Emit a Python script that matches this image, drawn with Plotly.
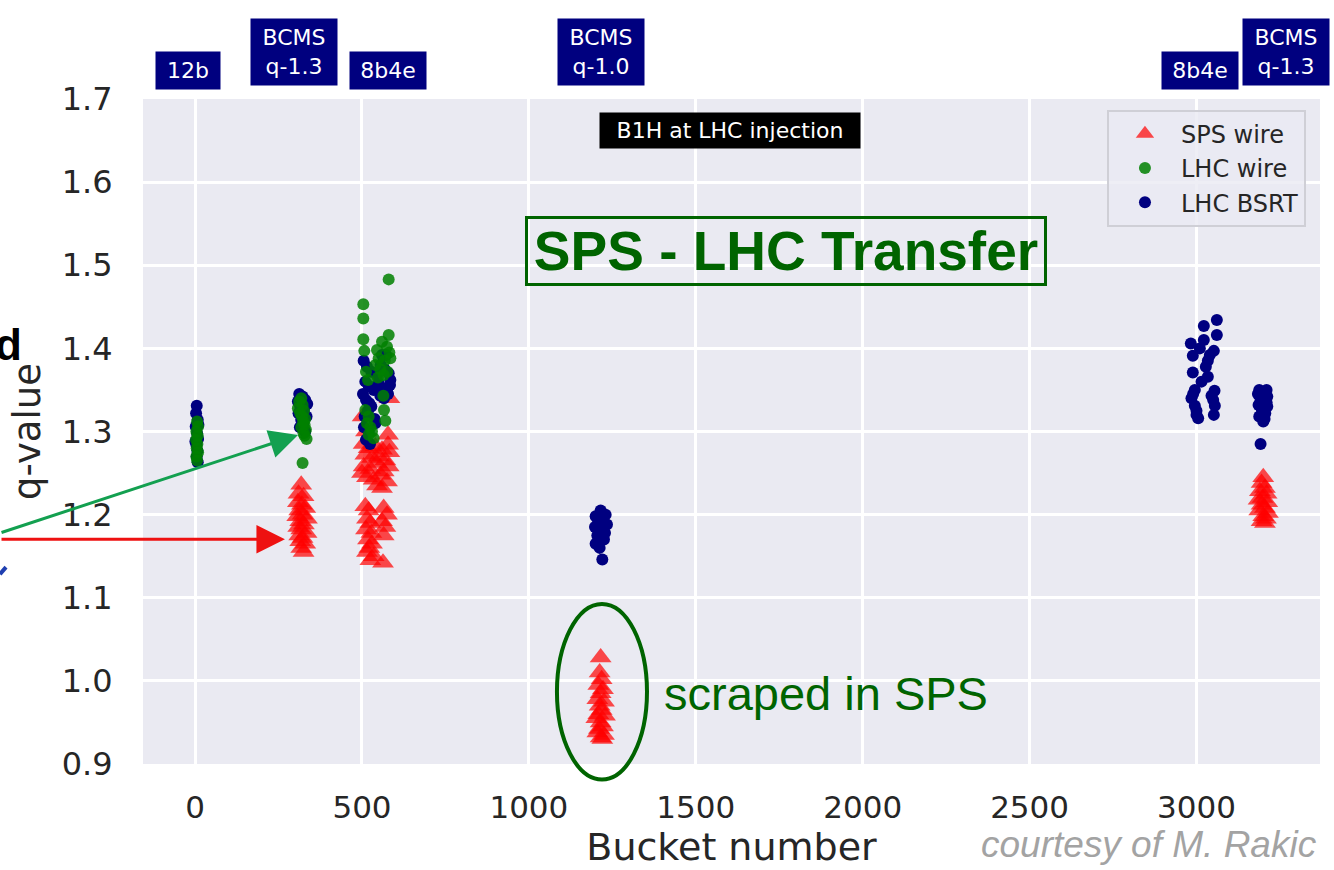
import plotly.graph_objects as go

# ---- SPS wire-scanner q-values (red triangles) ----
sps_bucket = [
    318, 310, 325, 308, 320, 330, 312, 322, 306, 335, 315, 326, 309, 318, 334, 312, 322, 315, 330, 318, 325,
    505, 520, 540, 560, 578, 510, 530, 550, 570, 582, 505, 525, 545, 565, 580, 515, 535, 555, 575, 545, 560,
    502, 582, 578, 512, 500,
    510, 520, 565, 575, 515, 525, 560, 570, 512, 528, 565, 518, 530, 522, 515, 535, 525, 563,
    1215, 1212, 1218, 1208, 1222, 1215, 1205, 1225, 1212, 1218, 1208, 1228, 1202, 1215, 1222, 1210, 1205,
    1225, 1215, 1220,
    3200, 3195, 3205, 3190, 3210, 3198, 3186, 3212, 3195, 3205, 3188, 3214, 3200, 3208, 3195, 3205,
]
sps_q = [
    1.236, 1.225, 1.222, 1.215, 1.212, 1.208, 1.205, 1.200, 1.198, 1.195, 1.192, 1.188, 1.185, 1.182, 1.178,
    1.175, 1.172, 1.168, 1.165, 1.160, 1.155,
    1.285, 1.280, 1.282, 1.278, 1.284, 1.272, 1.268, 1.270, 1.265, 1.275, 1.258, 1.255, 1.262, 1.252, 1.258,
    1.245, 1.242, 1.248, 1.240, 1.235, 1.232,
    1.318, 1.340, 1.296, 1.300, 1.250,
    1.210, 1.205, 1.208, 1.200, 1.195, 1.190, 1.192, 1.185, 1.182, 1.178, 1.175, 1.170, 1.165, 1.160, 1.155,
    1.150, 1.145, 1.142,
    1.028, 1.010, 1.002, 0.995, 0.990, 0.985, 0.978, 0.975, 0.970, 0.965, 0.960, 0.958, 0.955, 0.950, 0.945,
    0.942, 0.938, 0.935, 0.932, 0.930,
    1.245, 1.238, 1.232, 1.228, 1.225, 1.220, 1.218, 1.215, 1.212, 1.208, 1.205, 1.202, 1.198, 1.195, 1.192,
    1.190,
]

# ---- LHC wire-scanner q-values (green dots) ----
lhcw_bucket = [
    6, 9, 4, 8, 3, 7, 5, 9, 4, 6,
    318, 312, 322, 308, 326, 315, 320, 330, 324, 328, 318, 332, 325, 328, 334, 322,
    580, 504, 504, 504, 580, 507, 560, 575, 545, 582, 550, 568, 540, 585, 555, 576, 548, 565, 512, 518,
    564, 566, 570, 510, 520, 515, 525, 530, 520, 535,
]
lhcw_q = [
    1.312, 1.306, 1.300, 1.295, 1.290, 1.285, 1.280, 1.275, 1.270, 1.265,
    1.340, 1.336, 1.332, 1.328, 1.325, 1.322, 1.318, 1.315, 1.312, 1.308, 1.305, 1.302, 1.298, 1.295, 1.291,
    1.262,
    1.483, 1.453, 1.436, 1.411, 1.416, 1.397, 1.408, 1.402, 1.398, 1.395, 1.388, 1.385, 1.380, 1.388, 1.375,
    1.372, 1.365, 1.368, 1.372, 1.362,
    1.343, 1.326, 1.313, 1.326, 1.318, 1.310, 1.305, 1.300, 1.296, 1.292,
]

# ---- LHC BSRT q-values (navy dots) ----
bsrt_bucket = [
    5, 3, 8, 2, 6, 9, 4, 7, 5, 8, 10, 1,
    312, 322, 330, 308, 336, 315, 326, 310, 334, 318, 324, 314, 330,
    505, 515, 528, 545, 556, 568, 580, 585, 510, 520, 535, 550, 562, 575, 584, 503, 512, 522, 555, 566, 578,
    508, 528, 518, 538, 506, 520, 512, 524, 540, 572, 560,
    1215, 1230, 1200, 1222, 1208, 1234, 1198, 1218, 1228, 1205, 1225, 1200, 1212, 1220,
    3061, 3022, 3061, 2983, 3022, 3052, 2989, 3034, 2989, 3034, 3010, 3040, 3028, 3015,
    2995, 3054, 2985, 3050, 2995, 3055, 3000, 3052, 3005, 2990, 3045, 3000,
    3188, 3210, 3184, 3212, 3192, 3210, 3186, 3212, 3196, 3206, 3188, 3204, 3200, 3192,
]
bsrt_q = [
    1.331, 1.322, 1.314, 1.306, 1.298, 1.291, 1.284, 1.277, 1.270, 1.263, 1.308, 1.288,
    1.345, 1.342, 1.338, 1.336, 1.333, 1.330, 1.326, 1.322, 1.318, 1.314, 1.310, 1.305, 1.300,
    1.385, 1.378, 1.372, 1.368, 1.380, 1.375, 1.370, 1.362, 1.360, 1.355, 1.350, 1.358, 1.352, 1.348, 1.356,
    1.345, 1.338, 1.334, 1.343, 1.340, 1.345,
    1.318, 1.330, 1.325, 1.315, 1.305, 1.300, 1.290, 1.285, 1.310, 1.392, 1.392,
    1.205, 1.200, 1.198, 1.195, 1.192, 1.188, 1.185, 1.182, 1.178, 1.175, 1.170, 1.165, 1.160, 1.146,
    1.434, 1.427, 1.416, 1.406, 1.410, 1.397, 1.391, 1.385, 1.371, 1.366, 1.400, 1.392, 1.378, 1.360,
    1.350, 1.349, 1.340, 1.338, 1.331, 1.331, 1.320, 1.320, 1.316, 1.345, 1.343, 1.325,
    1.350, 1.350, 1.345, 1.342, 1.338, 1.335, 1.332, 1.330, 1.326, 1.322, 1.318, 1.315, 1.312, 1.285,
]

# filling-scheme labels above the axes
scheme_text = ["12b", "BCMS<br>q-1.3", "8b4e", "BCMS<br>q-1.0", "8b4e", "BCMS<br>q-1.3"]
scheme_bucket = [-22, 296, 578, 1216, 3010, 3269]

x_ticks = [0, 500, 1000, 1500, 2000, 2500, 3000]
y_ticks = [0.9, 1.0, 1.1, 1.2, 1.3, 1.4, 1.5, 1.6, 1.7]

FONT = "DejaVu Sans"
DARK_GREEN = "#006400"

fig = go.Figure()
fig.add_trace(go.Scatter(
    x=sps_bucket, y=sps_q, mode="markers", name="SPS wire", legendrank=1,
    marker=dict(symbol="triangle-up", size=19, color="red", opacity=0.7, line=dict(width=0)),
))
fig.add_trace(go.Scatter(
    x=bsrt_bucket, y=bsrt_q, mode="markers", name="LHC BSRT", legendrank=3,
    marker=dict(symbol="circle", size=12, color="navy", line=dict(width=0)),
))
fig.add_trace(go.Scatter(
    x=lhcw_bucket, y=lhcw_q, mode="markers", name="LHC wire", legendrank=2,
    marker=dict(symbol="circle", size=12, color="green", opacity=0.85, line=dict(width=0)),
))

annotations = []
for txt, b in zip(scheme_text, scheme_bucket):
    two_line = "<br>" in txt
    annotations.append(dict(
        x=b, xref="x", y=1.0703 if two_line else 1.0426, yref="paper",
        text=txt, showarrow=False, xanchor="center", yanchor="middle",
        font=dict(family=FONT, size=22, color="white"),
        bgcolor="#00007f", borderpad=6, width=74 if two_line else (52 if txt == "12b" else 64),
    ))

annotations += [
    dict(x=0.4991, y=0.9522, xref="paper", yref="paper", text="B1H at LHC injection",
         showarrow=False, xanchor="center", yanchor="middle",
         font=dict(family=FONT, size=22, color="white"), bgcolor="black", borderpad=5, width=250),
    dict(x=0.5467, y=0.7720, xref="paper", yref="paper", text="<b>SPS - LHC Transfer</b>",
         showarrow=False, xanchor="center", yanchor="middle",
         font=dict(family="Liberation Sans", size=55, color=DARK_GREEN),
         bordercolor=DARK_GREEN, borderwidth=3, borderpad=1, width=514),
    dict(x=0.441, y=0.1061, xref="paper", yref="paper", text="scraped in SPS",
         showarrow=False, xanchor="left", yanchor="middle",
         font=dict(family="Liberation Sans", size=47, color=DARK_GREEN)),
    dict(x=0.9992, y=-0.1211, xref="paper", yref="paper", text="<i>courtesy of M. Rakic</i>",
         showarrow=False, xanchor="right", yanchor="middle",
         font=dict(family="Liberation Sans", size=37, color="#a3a3a3")),
    dict(x=-0.1015, y=0.631, xref="paper", yref="paper", text="<b>d</b>",
         showarrow=False, xanchor="right", yanchor="middle",
         font=dict(family="Liberation Sans", size=44, color="black")),
    # pointer arrows from the left margin
    dict(x=0.1317, y=0.4948, xref="paper", yref="paper", text="", showarrow=True,
         ax=-298, ay=98, arrowhead=2, arrowsize=1.9, arrowwidth=3, arrowcolor="#13a050", standoff=0),
    dict(x=0.1206, y=0.3378, xref="paper", yref="paper", text="", showarrow=True,
         ax=-285, ay=0, arrowhead=2, arrowsize=1.9, arrowwidth=3, arrowcolor="#ee1111", standoff=0),
]

shapes = [
    dict(type="circle", xref="paper", yref="paper", x0=0.3517, x1=0.4282, y0=-0.0234, y1=0.2407,
         line=dict(color=DARK_GREEN, width=4), fillcolor="rgba(0,0,0,0)"),
    dict(type="line", xref="paper", yref="paper", x0=-0.1215, y0=0.2855, x1=-0.1164, y1=0.2960,
         line=dict(color="#1f3fb0", width=4)),
]

fig.update_layout(
    width=1334, height=870,
    margin=dict(l=143, r=14, t=99, b=102),
    paper_bgcolor="white", plot_bgcolor="#EAEAF2",
    font=dict(family=FONT, color="#262626"),
    showlegend=True,
    legend=dict(
        x=0.819, y=0.984, xanchor="left", yanchor="top",
        bgcolor="rgba(234,234,242,0.8)", bordercolor="#cfcfd6", borderwidth=2,
        font=dict(family=FONT, size=24, color="#262626"), tracegroupgap=0, itemwidth=62,
    ),
    annotations=annotations,
    shapes=shapes,
)
fig.update_xaxes(
    range=[-156, 3370], tickvals=x_ticks, ticktext=[str(v) for v in x_ticks],
    showgrid=True, gridcolor="white", gridwidth=2.5, zeroline=False, showline=False,
    ticks="outside", ticklen=16, tickcolor="rgba(0,0,0,0)",
    tickfont=dict(family=FONT, size=31, color="#262626"),
    title=dict(text="Bucket number", font=dict(family=FONT, size=38, color="#262626"), standoff=6),
)
fig.update_yaxes(
    range=[0.9, 1.7], tickvals=y_ticks, ticktext=[f"{v:.1f}" for v in y_ticks],
    showgrid=True, gridcolor="white", gridwidth=2.5, zeroline=False, showline=False,
    ticks="outside", ticklen=23, tickcolor="rgba(0,0,0,0)",
    tickfont=dict(family=FONT, size=32, color="#262626"),
    title=dict(text="q-value", font=dict(family=FONT, size=37, color="#262626"), standoff=9),
)

fig.write_html("out.html")
